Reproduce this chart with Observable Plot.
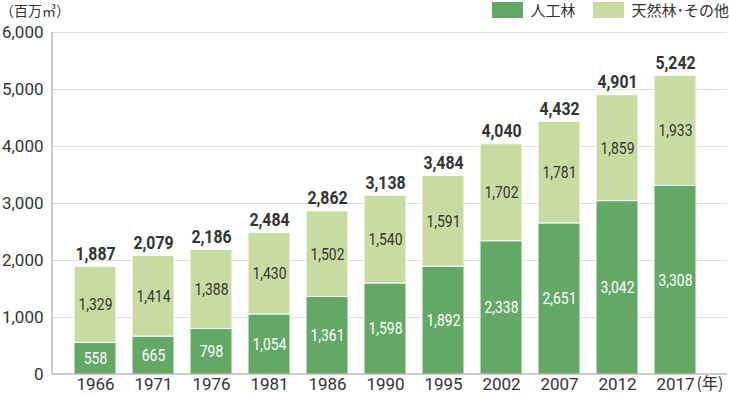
<!DOCTYPE html>
<html><head><meta charset="utf-8">
<script src="https://cdn.jsdelivr.net/npm/d3@7"></script>
<script src="https://cdn.jsdelivr.net/npm/@observablehq/plot@0.6"></script>
<style>
body{margin:0;background:#fff;font-family:Roboto,"Noto Sans CJK JP",sans-serif;}
#wrap{position:relative;width:729px;height:394px;}
.unit{position:absolute;left:0;top:0;font-size:14px;color:#333;line-height:20px;font-family:"Noto Sans CJK JP",sans-serif;}
.legend{position:absolute;top:1px;right:0;display:flex;align-items:center;font-size:15px;color:#333;font-family:"Noto Sans CJK JP",sans-serif;line-height:17px;}
.sw{display:inline-block;width:31px;height:16px;margin-right:7px;}
.item{display:flex;align-items:center;margin-left:18px;}
</style></head>
<body><div id="wrap"></div>
<script>
const years = ["1966","1971","1976","1981","1986","1990","1995","2002","2007","2012","2017"];
const planted = [558,665,798,1054,1361,1598,1892,2338,2651,3042,3308];
const natural = [1329,1414,1388,1430,1502,1540,1591,1702,1781,1859,1933];
const totals = [1887,2079,2186,2484,2862,3138,3484,4040,4432,4901,5242];
const seriesNames = ["人工林","天然林･その他"];
const colors = ["#64a866","#c8dca2"];
const yTicks = [0,1000,2000,3000,4000,5000,6000];

const rows = [];
years.forEach((y,i)=>{
  rows.push({year:y, s:seriesNames[0], v:planted[i], y1:0, y2:planted[i], mid:planted[i]/2});
  rows.push({year:y, s:seriesNames[1], v:natural[i], y1:planted[i], y2:planted[i]+natural[i], mid:planted[i]+natural[i]/2});
});
const tot = years.map((y,i)=>({year:y, v:totals[i]}));
const fmt = d3.format(",");

const chart = Plot.plot({
  width:729, height:394,
  marginLeft:52, marginRight:2, marginTop:32, marginBottom:20,
  style:{fontFamily:"Roboto, 'Noto Sans CJK JP', sans-serif", fontSize:"17px", color:"#333", background:"#fff"},
  x:{domain:years, paddingInner:0.28, paddingOuter:0.405, align:0.42, label:null},
  y:{domain:[0,6000], label:null},
  color:{domain:seriesNames, range:colors},
  marks:[
    Plot.gridY(yTicks.slice(1), {stroke:"#dcdcdc", strokeOpacity:1}),
    Plot.axisY(yTicks, {tickSize:0, tickPadding:9, tickFormat:fmt, fontSize:17, fill:"#333"}),
    Plot.axisX({tickSize:0, tickPadding:3, fontSize:17, fill:"#333"}),
    Plot.rectY(rows, {x:"year", y1:"y1", y2:"y2", fill:"s", stroke:"white", strokeWidth:1}),
    Plot.text(rows.filter(d=>d.s===seriesNames[0]), {x:"year", y:"mid", text:d=>fmt(d.v), fill:"white", fontSize:17, className:"cond-inner"}),
    Plot.text(rows.filter(d=>d.s===seriesNames[1]), {x:"year", y:"mid", text:d=>fmt(d.v), fill:"#333", fontSize:17, className:"cond-inner"}),
    Plot.text(tot, {x:"year", y:"v", text:d=>fmt(d.v), lineAnchor:"bottom", dy:-7, fontSize:18, fontWeight:"bold", fill:"#333", className:"cond-total"}),
    Plot.text([years[years.length-1]], {x:d=>d, y:()=>0, text:()=>"(年)", textAnchor:"start", lineAnchor:"top", dx:21, dy:3, fontSize:16, fill:"#333", fontFamily:"'Noto Sans CJK JP', sans-serif"})
  ]
});
const wrap = document.getElementById("wrap");
wrap.appendChild(chart);
// horizontally condense the numeric labels around their own anchor point
function condense(cls, k){
  d3.select(chart).selectAll(`g.${cls} text`).each(function(){
    const t = d3.select(this);
    const tr = t.attr("transform") || "";
    const xa = parseFloat(t.attr("x"));
    const x = isFinite(xa) ? xa : 0;
    t.attr("transform", `${tr} translate(${x},0) scale(${k},1) translate(${-x},0)`);
  });
}
condense("cond-inner", 0.82);
condense("cond-total", 0.88);
const sy = chart.scale("y");
const svg = d3.select(chart);
svg.append("line").attr("x1",52).attr("x2",52).attr("y1",sy.apply(6000)).attr("y2",sy.apply(0)).attr("stroke","#999");
svg.append("line").attr("x1",52).attr("x2",727).attr("y1",sy.apply(0)).attr("y2",sy.apply(0)).attr("stroke","#999");
const u = document.createElement("div"); u.className="unit"; u.textContent="（百万㎥）"; wrap.appendChild(u);
const lg = document.createElement("div"); lg.className="legend";
seriesNames.forEach((n,i)=>{const it=document.createElement("div");it.className="item";it.innerHTML=`<span class="sw" style="background:${colors[i]}"></span>${n}`;lg.appendChild(it);});
wrap.appendChild(lg);
</script></body></html>
